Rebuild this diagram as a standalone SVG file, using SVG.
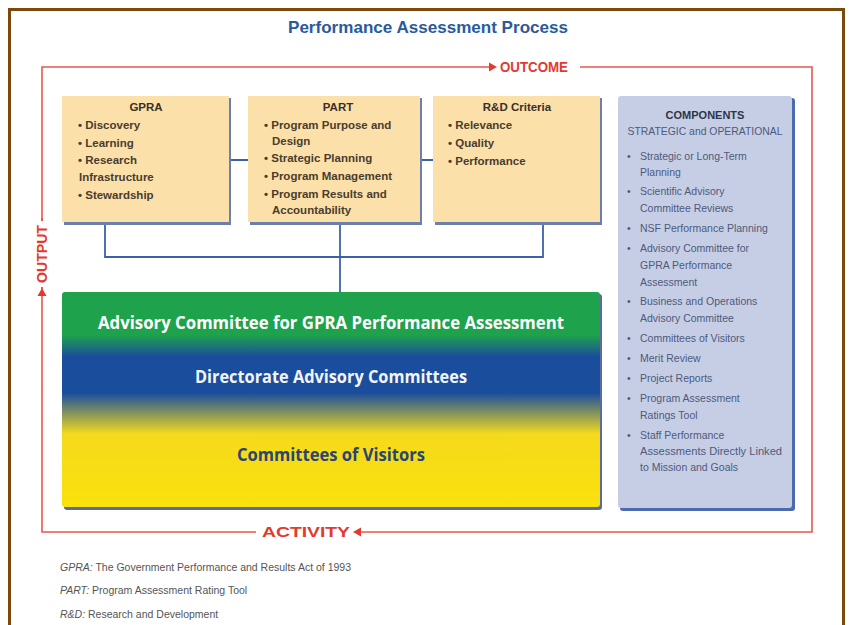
<svg xmlns="http://www.w3.org/2000/svg" width="849" height="625" viewBox="0 0 849 625">
<defs>
<style>
.frame{fill:none;stroke:#7a4a0c;stroke-width:3}
.loop{fill:none;stroke:#e8584e;stroke-width:1.6}
.conn{fill:none;stroke:#3b62a8;stroke-width:1.8}
.redlbl{font-family:"Liberation Sans",Arial,sans-serif;font-weight:bold;font-size:14px;fill:#e23a2e}
.tan{fill:#fbe0aa}
.tanshadow{fill:#6d7fae}
.tt{font-family:"Liberation Sans",Arial,sans-serif;font-weight:bold;font-size:11.5px;fill:#4a3c2e}
.th{font-family:"Liberation Sans",Arial,sans-serif;font-weight:bold;font-size:11.5px;fill:#3a3028;text-anchor:middle}
.ct{font-family:"Liberation Sans",Arial,sans-serif;font-size:10.5px;fill:#4d5a7c}
.foot{font-family:"Liberation Sans",Arial,sans-serif;font-size:10.5px;fill:#555}
.big{font-family:"Open Sans","Liberation Sans",Arial,sans-serif;font-weight:bold;font-size:17px;text-anchor:middle}
</style>
<linearGradient id="stack" x1="0" y1="0" x2="0" y2="1">
<stop offset="0" stop-color="#1fa24c"/>
<stop offset="0.2" stop-color="#1fa24c"/>
<stop offset="0.3" stop-color="#1a4e9c"/>
<stop offset="0.47" stop-color="#1a4e9c"/>
<stop offset="0.66" stop-color="#f4da1c"/>
<stop offset="1" stop-color="#fbe10c"/>
</linearGradient>
</defs>
<rect width="849" height="625" fill="#ffffff"/>
<path class="frame" d="M9.5,625 V9.5 H843.5 V625"/>
<text x="428" y="33" font-family="Liberation Sans,Arial,sans-serif" font-weight="bold" font-size="17" fill="#2a5a9c" text-anchor="middle" textLength="280" lengthAdjust="spacingAndGlyphs">Performance Assessment Process</text>

<g id="connectors">
<path class="loop" d="M490,67 H42 V532 H256"/>
<path class="loop" d="M580,67 H812 V532 H360"/>
<path class="loop" d="M42,290 V218"/>
<polygon points="497,67 489,62.5 489,71.5" fill="#e23a2e"/>
<polygon points="353,532 361,527.5 361,536.5" fill="#e23a2e"/>
<polygon points="42,288 37.5,296 46.5,296" fill="#e23a2e"/>
<path class="loop" d="M42,290 V218"/>
<path class="conn" d="M229,160 H248 M420,160 H433"/>
<path class="conn" d="M105,223 V257 H543 V223"/>
<path class="conn" d="M340,223 V292"/>
</g>
<rect x="36" y="221" width="12" height="66" fill="#ffffff"/>
<text class="redlbl" x="500" y="72" textLength="68" lengthAdjust="spacingAndGlyphs">OUTCOME</text>
<text class="redlbl" x="262" y="537" textLength="88" lengthAdjust="spacingAndGlyphs">ACTIVITY</text>
<text class="redlbl" transform="translate(47,283) rotate(-90)" textLength="58" lengthAdjust="spacingAndGlyphs">OUTPUT</text>

<g id="gpra">
<rect class="tanshadow" x="64" y="98" width="167" height="127"/>
<rect class="tan" x="62" y="96" width="167" height="126"/>
<text class="th" x="146" y="111">GPRA</text>
<text class="tt" x="78" y="129">• Discovery</text>
<text class="tt" x="78" y="147">• Learning</text>
<text class="tt" x="78" y="164">• Research</text>
<text class="tt" x="79" y="181">Infrastructure</text>
<text class="tt" x="78" y="199">• Stewardship</text>
</g>

<g id="part">
<rect class="tanshadow" x="250" y="98" width="172" height="127"/>
<rect class="tan" x="248" y="96" width="172" height="126"/>
<text class="th" x="338" y="111">PART</text>
<text class="tt" x="264" y="129">• Program Purpose and</text>
<text class="tt" x="272" y="145">Design</text>
<text class="tt" x="264" y="162">• Strategic Planning</text>
<text class="tt" x="264" y="180">• Program Management</text>
<text class="tt" x="264" y="198">• Program Results and</text>
<text class="tt" x="272" y="214">Accountability</text>
</g>

<g id="rd">
<rect class="tanshadow" x="435" y="98" width="167" height="127"/>
<rect class="tan" x="433" y="96" width="167" height="126"/>
<text class="th" x="517" y="111">R&amp;D Criteria</text>
<text class="tt" x="448" y="129">• Relevance</text>
<text class="tt" x="448" y="147">• Quality</text>
<text class="tt" x="448" y="165">• Performance</text>
</g>

<g id="committees">
<rect x="64" y="294" width="538" height="216" rx="3" fill="#5a6c9c"/>
<rect x="62" y="292" width="538" height="215" rx="3" fill="url(#stack)"/>
<text class="big" x="331" y="329" fill="#ffffff" textLength="466" lengthAdjust="spacingAndGlyphs">Advisory Committee for GPRA Performance Assessment</text>
<text class="big" x="331" y="383" fill="#f2f4fa" textLength="272" lengthAdjust="spacingAndGlyphs">Directorate Advisory Committees</text>
<text class="big" x="331" y="461" fill="#2a4474" textLength="188" lengthAdjust="spacingAndGlyphs">Committees of Visitors</text>
</g>

<g id="components">
<rect x="620" y="98" width="175" height="413" rx="3" fill="#4c6aae"/>
<rect x="618" y="96" width="174" height="412" rx="3" fill="#c6cee6"/>
<text x="705" y="119" font-family="Liberation Sans,Arial,sans-serif" font-weight="bold" font-size="11" fill="#2e3446" text-anchor="middle">COMPONENTS</text>
<text class="ct" x="705" y="135" text-anchor="middle" textLength="155" lengthAdjust="spacingAndGlyphs">STRATEGIC and OPERATIONAL</text>
<g class="ct">
<text x="627" y="160">•</text><text x="640" y="160">Strategic or Long-Term</text>
<text x="640" y="176">Planning</text>
<text x="627" y="195">•</text><text x="640" y="195">Scientific Advisory</text>
<text x="640" y="212">Committee Reviews</text>
<text x="627" y="232">•</text><text x="640" y="232">NSF Performance Planning</text>
<text x="627" y="252">•</text><text x="640" y="252">Advisory Committee for</text>
<text x="640" y="269">GPRA Performance</text>
<text x="640" y="286">Assessment</text>
<text x="627" y="305">•</text><text x="640" y="305">Business and Operations</text>
<text x="640" y="322">Advisory Committee</text>
<text x="627" y="342">•</text><text x="640" y="342">Committees of Visitors</text>
<text x="627" y="362">•</text><text x="640" y="362">Merit Review</text>
<text x="627" y="382">•</text><text x="640" y="382">Project Reports</text>
<text x="627" y="402">•</text><text x="640" y="402">Program Assessment</text>
<text x="640" y="419">Ratings Tool</text>
<text x="627" y="439">•</text><text x="640" y="439">Staff Performance</text>
<text x="640" y="455" textLength="142" lengthAdjust="spacingAndGlyphs">Assessments Directly Linked</text>
<text x="640" y="471">to Mission and Goals</text>
</g>
</g>

<g id="footnotes">
<text class="foot" x="60" y="571"><tspan font-style="italic">GPRA:</tspan> The Government Performance and Results Act of 1993</text>
<text class="foot" x="60" y="594"><tspan font-style="italic">PART:</tspan> Program Assessment Rating Tool</text>
<text class="foot" x="60" y="618"><tspan font-style="italic">R&amp;D:</tspan> Research and Development</text>
</g>
</svg>
